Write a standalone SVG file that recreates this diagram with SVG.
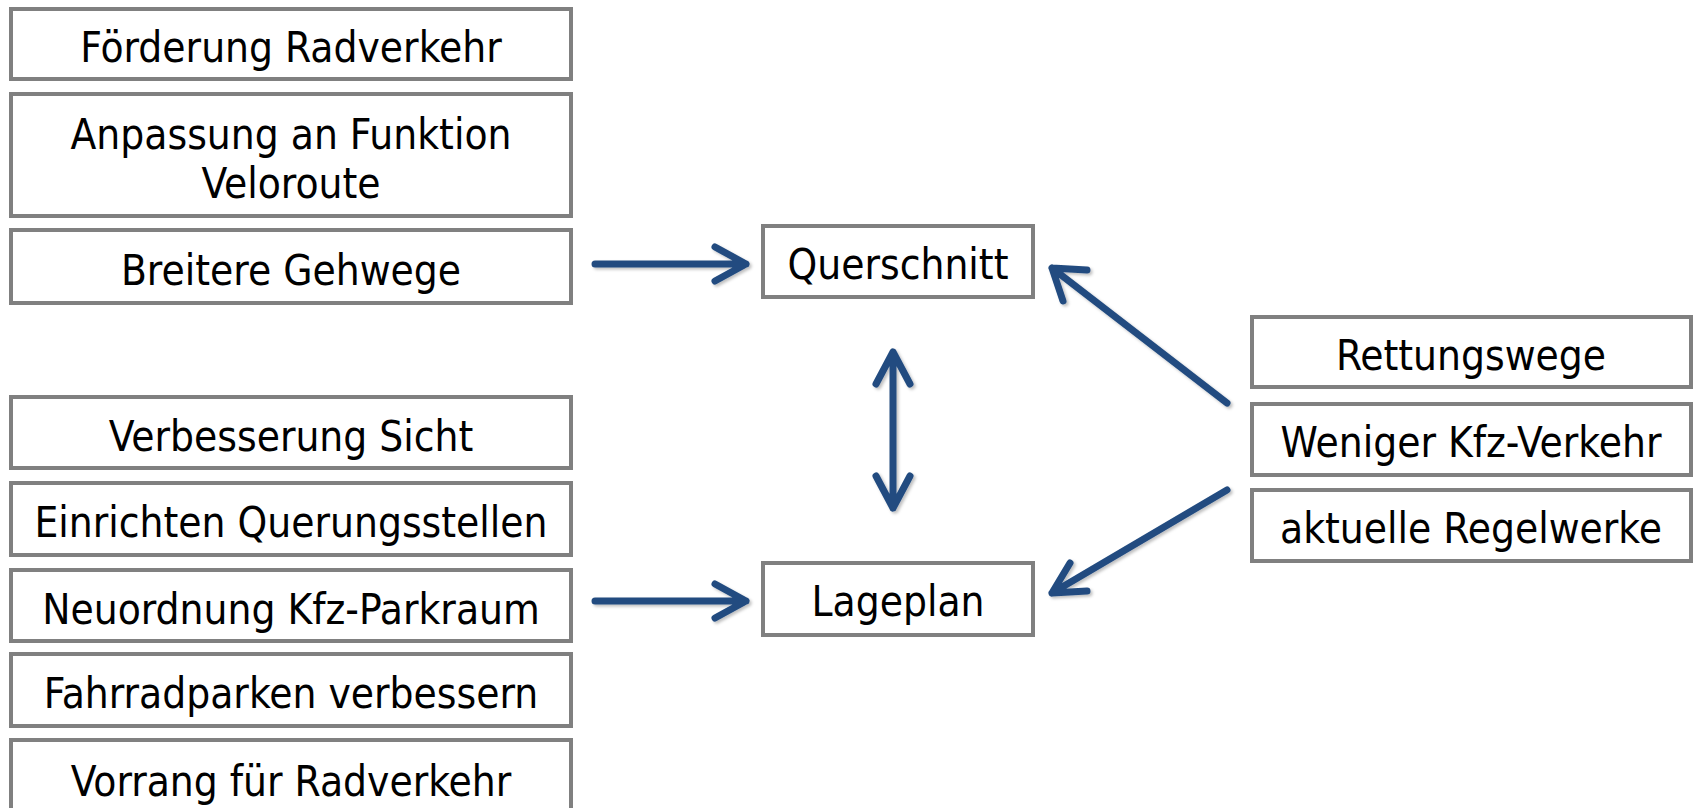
<svg xmlns="http://www.w3.org/2000/svg" width="1696" height="808" viewBox="0 0 1696 808">
<style>
.box{fill:#fff;stroke:#808080;stroke-width:4}
.t{font-family:"DejaVu Sans Condensed","DejaVu Sans",sans-serif;font-size:42px;fill:#000;text-anchor:middle;dominant-baseline:central}
.a{fill:none;stroke:#234c80;stroke-width:7;stroke-linecap:round;stroke-linejoin:round}
</style>
<defs>
<filter id="sh" x="-20%" y="-20%" width="140%" height="140%">
<feDropShadow dx="2" dy="2" stdDeviation="1.5" flood-color="#000" flood-opacity="0.25"/>
</filter>
</defs>
<rect width="1696" height="808" fill="#fff"/>
<g id="n1"><rect class="box" x="11" y="9" width="560" height="70"/><text class="t" x="291" y="47">Förderung Radverkehr</text></g>
<g id="n2"><rect class="box" x="11" y="94" width="560" height="122"/><text class="t" x="291" y="134">Anpassung an Funktion</text><text class="t" x="291" y="183">Veloroute</text></g>
<g id="n3"><rect class="box" x="11" y="230" width="560" height="73"/><text class="t" x="291" y="270">Breitere Gehwege</text></g>
<g id="n4"><rect class="box" x="11" y="397" width="560" height="71"/><text class="t" x="291" y="436">Verbesserung Sicht</text></g>
<g id="n5"><rect class="box" x="11" y="483" width="560" height="72"/><text class="t" x="291" y="522">Einrichten Querungsstellen</text></g>
<g id="n6"><rect class="box" x="11" y="570" width="560" height="71"/><text class="t" x="291" y="609">Neuordnung Kfz-Parkraum</text></g>
<g id="n7"><rect class="box" x="11" y="654" width="560" height="72"/><text class="t" x="291" y="693">Fahrradparken verbessern</text></g>
<g id="n8"><rect class="box" x="11" y="740" width="560" height="80"/><text class="t" x="291" y="781">Vorrang für Radverkehr</text></g>
<g id="querschnitt"><rect class="box" x="763" y="226" width="270" height="71"/><text class="t" x="898" y="264">Querschnitt</text></g>
<g id="lageplan"><rect class="box" x="763" y="563" width="270" height="72"/><text class="t" x="898" y="601">Lageplan</text></g>
<g id="r1"><rect class="box" x="1252" y="317" width="439" height="70"/><text class="t" x="1471" y="355">Rettungswege</text></g>
<g id="r2"><rect class="box" x="1252" y="404" width="439" height="71"/><text class="t" x="1471" y="442">Weniger Kfz-Verkehr</text></g>
<g id="r3"><rect class="box" x="1252" y="490" width="439" height="71"/><text class="t" x="1471" y="528">aktuelle Regelwerke</text></g>
<g id="connectors" filter="url(#sh)">
<path class="a" d="M595 264H746M715 247L746 264L715 281"/>
<path class="a" d="M595 601H746M715 584L746 601L715 618"/>
<path class="a" d="M893 352V508M876 384L893 352L910 384M876 476L893 508L910 476"/>
<path class="a" d="M1227 403L1052 268M1063 301L1052 268L1087 270"/>
<path class="a" d="M1227 490L1052 593M1087 591L1052 593L1070 563"/>
</g>
</svg>
